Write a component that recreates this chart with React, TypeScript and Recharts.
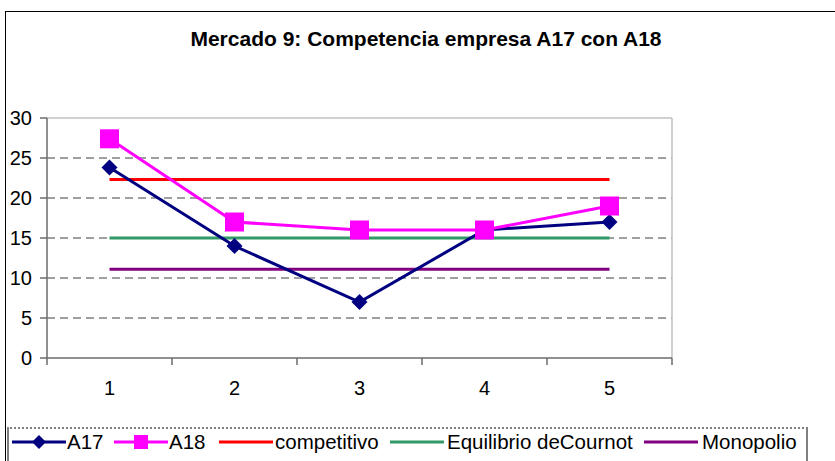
import { LineChart, Line, XAxis, YAxis, ReferenceLine } from "recharts";

const categories = [1, 2, 3, 4, 5];
const a17 = [23.8, 14, 7, 16, 17];
const a18 = [27.4, 17, 16, 16, 19];
const competitivo = [22.3, 22.3, 22.3, 22.3, 22.3];
const cournot = [15, 15, 15, 15, 15];
const monopolio = [11.1, 11.1, 11.1, 11.1, 11.1];

const yTicks = [0, 5, 10, 15, 20, 25, 30];
const gridValues = [5, 10, 15, 20, 25];
const xTicks = [0.5, 1, 1.5, 2, 2.5, 3, 3.5, 4, 4.5, 5, 5.5];

const FONT = "Arial, 'Liberation Sans', sans-serif";
const AXIS = "#6b6b6b";

const COLORS = {
  a17: "#000080",
  a18: "#FF00FF",
  competitivo: "#FF0000",
  cournot: "#339966",
  monopolio: "#800080",
};

const data = categories.map((c, i) => ({
  x: c,
  a17: a17[i],
  a18: a18[i],
  competitivo: competitivo[i],
  cournot: cournot[i],
  monopolio: monopolio[i],
}));

function Diamond({ cx, cy, color, size = 8 }: any) {
  if (cx == null || cy == null) return <g />;
  return (
    <polygon
      points={`${cx},${cy - size} ${cx + size},${cy} ${cx},${cy + size} ${cx - size},${cy}`}
      fill={color}
    />
  );
}

function Square({ cx, cy, color, size = 9.5 }: any) {
  if (cx == null || cy == null) return <g />;
  return <rect x={cx - size} y={cy - size} width={size * 2} height={size * 2} fill={color} />;
}

function XTick({ x, y, payload }: any) {
  const v = payload.value;
  if (Number.isInteger(v)) {
    return (
      <text x={x} y={y + 30} textAnchor="middle" fontSize={20} fontFamily={FONT} fill="#000">
        {v}
      </text>
    );
  }
  return <line x1={x} x2={x} y1={y - 7} y2={y} stroke={AXIS} strokeWidth={1.5} />;
}

const legendItems = [
  { label: "A17", color: COLORS.a17, marker: "diamond", lx: 12, tx: 67 },
  { label: "A18", color: COLORS.a18, marker: "square", lx: 114, tx: 169 },
  { label: "competitivo", color: COLORS.competitivo, marker: "", lx: 219, tx: 275 },
  { label: "Equilibrio deCournot", color: COLORS.cournot, marker: "", lx: 390, tx: 447 },
  { label: "Monopolio", color: COLORS.monopolio, marker: "", lx: 644, tx: 702 },
];

export default function App() {
  return (
    <div
      style={{
        position: "absolute",
        left: 0,
        top: 0,
        width: 835,
        height: 461,
        overflow: "hidden",
        background: "#fff",
        fontFamily: FONT,
      }}
    >
      <div
        style={{
          position: "absolute",
          left: 5,
          top: 11,
          width: 860,
          height: 480,
          border: "1px solid #000",
        }}
      />
      <div
        style={{
          position: "absolute",
          left: 0,
          width: 852,
          top: 27,
          textAlign: "center",
          fontWeight: "bold",
          fontSize: 21,
          lineHeight: "24px",
          color: "#000",
        }}
      >
        Mercado 9: Competencia empresa A17 con A18
      </div>

      <div style={{ position: "absolute", left: 0, top: 0 }}>
        <LineChart width={835} height={461} data={data} margin={{ top: 118, right: 163, bottom: 73, left: 0 }}>
          {gridValues.map((v) => (
            <ReferenceLine key={v} y={v} stroke="#808080" strokeWidth={1.5} strokeDasharray="8 5" />
          ))}
          <ReferenceLine y={30} stroke="#c0c0c0" strokeWidth={1.5} />
          <ReferenceLine x={5.5} stroke="#c0c0c0" strokeWidth={1.5} />
          <XAxis
            dataKey="x"
            type="number"
            domain={[0.5, 5.5]}
            ticks={xTicks}
            interval={0}
            height={30}
            tickSize={7}
            tickMargin={0}
            tickLine={false}
            axisLine={{ stroke: AXIS, strokeWidth: 1.5 }}
            tick={<XTick />}
          />
          <YAxis
            type="number"
            domain={[0, 30]}
            ticks={yTicks}
            interval={0}
            width={47}
            tickSize={7}
            tickMargin={8}
            tickLine={{ stroke: AXIS, strokeWidth: 1.5 }}
            axisLine={{ stroke: AXIS, strokeWidth: 1.5 }}
            tick={{ fill: "#000", fontSize: 20, fontFamily: FONT }}
          />
          <Line dataKey="competitivo" stroke={COLORS.competitivo} strokeWidth={3} dot={false} isAnimationActive={false} />
          <Line dataKey="cournot" stroke={COLORS.cournot} strokeWidth={3} dot={false} isAnimationActive={false} />
          <Line dataKey="monopolio" stroke={COLORS.monopolio} strokeWidth={3} dot={false} isAnimationActive={false} />
          <Line
            dataKey="a17"
            stroke={COLORS.a17}
            strokeWidth={3}
            dot={(p: any) => <Diamond key={`d${p.index}`} cx={p.cx} cy={p.cy} color={COLORS.a17} />}
            isAnimationActive={false}
          />
          <Line
            dataKey="a18"
            stroke={COLORS.a18}
            strokeWidth={3}
            dot={(p: any) => <Square key={`s${p.index}`} cx={p.cx} cy={p.cy} color={COLORS.a18} />}
            isAnimationActive={false}
          />
        </LineChart>
      </div>

      <div
        style={{
          position: "absolute",
          left: 7,
          top: 427,
          width: 797,
          height: 50,
          border: "2px solid #808080",
          borderTop: "2px dotted #808080",
        }}
      />
      {legendItems.map((it) => (
        <div key={it.label}>
          <svg style={{ position: "absolute", left: it.lx, top: 432, overflow: "visible" }} width={54} height={20}>
            <line x1={0} x2={54} y1={10} y2={10} stroke={it.color} strokeWidth={3} />
            {it.marker === "diamond" && <Diamond cx={27} cy={10} color={it.color} size={7} />}
            {it.marker === "square" && <Square cx={27} cy={10} color={it.color} size={7} />}
          </svg>
          <div
            style={{
              position: "absolute",
              left: it.tx,
              top: 430,
              fontSize: 20.5,
              lineHeight: "24px",
              color: "#000",
              whiteSpace: "nowrap",
            }}
          >
            {it.label}
          </div>
        </div>
      ))}
    </div>
  );
}
